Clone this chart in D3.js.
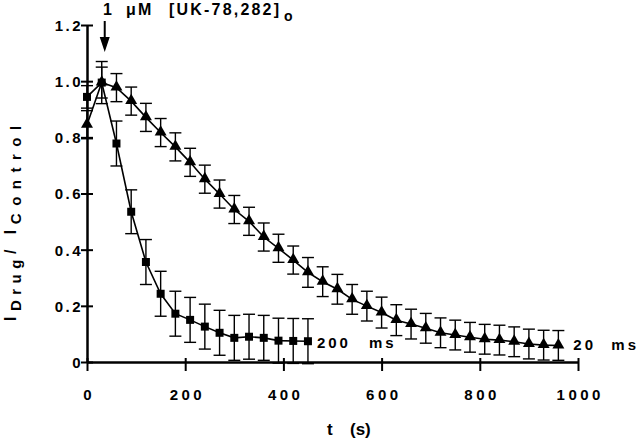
<!DOCTYPE html>
<html><head><meta charset="utf-8">
<script src="https://cdn.jsdelivr.net/npm/d3@7"></script>
<style>
html,body{margin:0;padding:0;background:#fff;}
svg{display:block;}
text{font-family:"Liberation Sans",Arial,Helvetica,sans-serif;fill:#000;}
</style></head>
<body>
<svg id="chart" width="640" height="441"></svg>
<script>
// ---- data ----
const t200 = [0,30,60,90,120,150,180,210,240,270,300,330,360,390,420,450];
const v200 = [0.944,0.995,0.778,0.535,0.356,0.243,0.172,0.150,0.126,0.104,0.086,0.090,0.086,0.076,0.075,0.074];
const e200 = [0.04,0.075,0.08,0.078,0.08,0.08,0.08,0.08,0.08,0.08,0.08,0.08,0.08,0.08,0.08,0.08];

const t20 = [0,30,60,90,120,150,180,210,240,270,300,330,360,390,420,450,480,510,540,570,600,630,660,690,720,750,780,810,840,870,900,930,960];
const v20 = [0.845,0.995,0.977,0.929,0.871,0.817,0.766,0.711,0.651,0.598,0.543,0.501,0.445,0.405,0.363,0.319,0.286,0.259,0.223,0.199,0.176,0.149,0.135,0.120,0.104,0.096,0.088,0.081,0.078,0.072,0.064,0.060,0.059];
const e20 = [0.05,0.055,0.05,0.05,0.05,0.05,0.05,0.05,0.05,0.05,0.05,0.05,0.05,0.05,0.05,0.053,0.053,0.053,0.053,0.053,0.055,0.055,0.053,0.053,0.053,0.053,0.053,0.053,0.053,0.053,0.053,0.053,0.053];

const xTicks = [0,200,400,600,800,1000];
const yTicks = [0,0.2,0.4,0.6,0.8,1.0,1.2];
const seriesLabels = ["200", "20"];

// ---- layout ----
const svg = d3.select("#chart");
const x = d3.scaleLinear().domain([0,1000]).range([87,578]);
const y = d3.scaleLinear().domain([0,1.2]).range([362,25]);

// axes
const yAxis = d3.axisLeft(y).tickValues(yTicks)
  .tickFormat(d => d === 0 ? "0" : d3.format(".1f")(d))
  .tickSizeOuter(0).tickSizeInner(6).tickPadding(4);
const gy = svg.append("g").attr("transform", `translate(${x(0)},0)`).call(yAxis);
gy.select(".domain").attr("stroke","#000").attr("stroke-width",2.5);
gy.selectAll(".tick line").attr("x1",6).attr("x2",-6).attr("stroke","#000").attr("stroke-width",2);
gy.selectAll(".tick text").attr("font-size",15).attr("font-weight","bold")
  .attr("letter-spacing","2.5px").attr("x",-4).attr("dy","0.36em");

const xAxis = d3.axisBottom(x).tickValues(xTicks).tickFormat(d3.format("d"))
  .tickSizeOuter(0).tickSizeInner(9).tickPadding(18);
const gx = svg.append("g").attr("transform", `translate(0,${y(0)})`).call(xAxis);
gx.select(".domain").attr("stroke","#000").attr("stroke-width",2.5);
gx.selectAll(".tick line").attr("y1",-4).attr("y2",9).attr("stroke","#000").attr("stroke-width",2);
gx.selectAll(".tick text").attr("font-size",15).attr("font-weight","bold")
  .attr("letter-spacing","3.5px").attr("dx","1.75px");

// series drawing
function drawSeries(ts, vs, es, shape){
  const g = svg.append("g");
  const pts = ts.map((t,i)=>({t, v:vs[i], e:es[i]}));
  const line = d3.line().x(d=>x(d.t)).y(d=>y(d.v));
  g.append("path").datum(pts).attr("d", line).attr("fill","none")
    .attr("stroke","#000").attr("stroke-width",1.6);
  const cw = 6;
  const eb = g.selectAll("g.eb").data(pts).enter().append("g");
  eb.append("line").attr("x1",d=>x(d.t)).attr("x2",d=>x(d.t))
    .attr("y1",d=>y(d.v+d.e)).attr("y2",d=>y(d.v-d.e)).attr("stroke","#000").attr("stroke-width",1.4);
  eb.append("line").attr("x1",d=>x(d.t)-cw).attr("x2",d=>x(d.t)+cw)
    .attr("y1",d=>y(d.v+d.e)).attr("y2",d=>y(d.v+d.e)).attr("stroke","#000").attr("stroke-width",1.4);
  eb.append("line").attr("x1",d=>x(d.t)-cw).attr("x2",d=>x(d.t)+cw)
    .attr("y1",d=>y(d.v-d.e)).attr("y2",d=>y(d.v-d.e)).attr("stroke","#000").attr("stroke-width",1.4);
  const sym = d3.symbol().type(shape === "square" ? d3.symbolSquare : d3.symbolTriangle)
    .size(shape === "square" ? 64 : 62);
  g.selectAll("path.m").data(pts).enter().append("path").attr("class","m")
    .attr("d", sym).attr("transform", d=>`translate(${x(d.t)},${y(d.v) + (shape==="square"?0:-0.5)})`)
    .attr("fill","#000");
  return pts;
}
drawSeries(t20, v20, e20, "triangle");
drawSeries(t200, v200, e200, "square");

// series labels
function seriesLabel(tx, ty, num){
  const t = svg.append("text").attr("font-size",15).attr("font-weight","bold").attr("letter-spacing","3px")
    .attr("y", ty);
  t.append("tspan").attr("x", tx).text(num);
  t.append("tspan").attr("x", tx + (num.length === 3 ? 52 : 38)).text("ms");
}
seriesLabel(x(t200[t200.length-1]) + 9, y(v200[v200.length-1]) + 7, seriesLabels[0]);
seriesLabel(x(t20[t20.length-1]) + 15, y(v20[v20.length-1]) + 5, seriesLabels[1]);

// title with arrow
const title = svg.append("text").attr("font-size",16).attr("font-weight","bold").attr("letter-spacing","2.2px").attr("y",15);
title.append("tspan").attr("x",103).text("1");
title.append("tspan").attr("x",126).text("μM");
title.append("tspan").attr("x",169).text("[UK-78,282]");
title.append("tspan").attr("x",284).attr("y",21).attr("font-size",14).text("o");

const ax = x(t200[1]) + 3;
svg.append("line").attr("x1",ax).attr("x2",ax).attr("y1",21).attr("y2",40).attr("stroke","#000").attr("stroke-width",2);
svg.append("path").attr("d",`M${ax-5},37 L${ax+5},37 L${ax},52 Z`).attr("fill","#000");

// y label
const yl = svg.append("text").attr("transform","translate(16,321) rotate(-90)")
  .attr("font-size",16).attr("font-weight","bold").attr("letter-spacing","5.5px");
yl.append("tspan").text("I");
yl.append("tspan").attr("font-size",15).attr("dy",5).text("Drug");
yl.append("tspan").attr("dy",-5).text("/ I");
yl.append("tspan").attr("font-size",15).attr("dy",5).attr("letter-spacing","7.5px").text("Control");

// x label
const xl = svg.append("text").attr("font-size",17).attr("font-weight","bold").attr("y",435);
xl.append("tspan").attr("x",327).text("t");
xl.append("tspan").attr("x",350).text("(s)");
</script>
</body></html>
